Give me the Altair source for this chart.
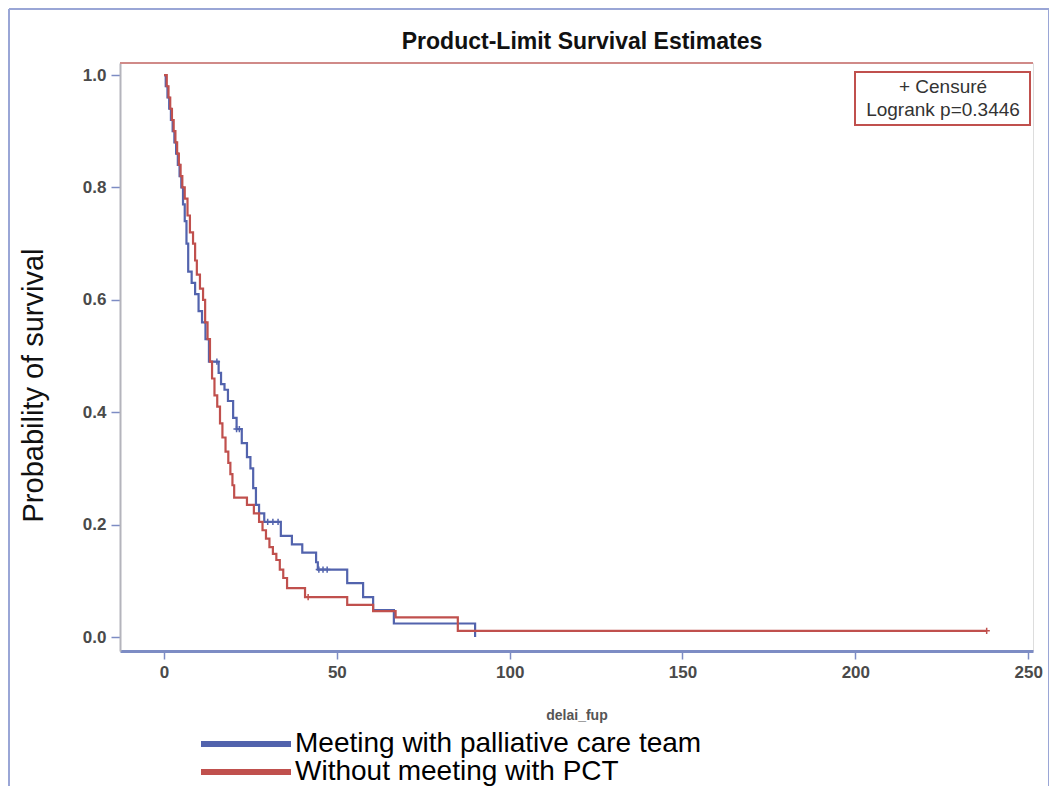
import altair as alt
import pandas as pd

groups = ["Meeting with palliative care team", "Without meeting with PCT"]
line_colors = ["#5263ad", "#c0504d"]

# Meeting with palliative care team (blue) - Kaplan-Meier steps
blue_t = [0, 0.5, 1, 1.5, 2, 2.5, 3, 3.5, 4, 4.5, 5, 5.5, 6, 6.5, 7, 8, 9, 10, 11, 12,
          13, 15.8, 16.5, 17.5, 18.5, 20, 21, 22.5, 24, 25, 25.8, 26.6, 27.5, 29, 33.8,
          37, 40, 44, 44.5, 53, 57.6, 60.5, 66.5, 90]
blue_s = [1.0, 0.98, 0.96, 0.94, 0.92, 0.90, 0.88, 0.86, 0.84, 0.82, 0.80, 0.77, 0.74,
          0.70, 0.65, 0.63, 0.61, 0.58, 0.56, 0.53, 0.49, 0.47, 0.45, 0.44, 0.42, 0.39,
          0.37, 0.345, 0.32, 0.30, 0.265, 0.235, 0.22, 0.205, 0.18, 0.165, 0.15, 0.133,
          0.12, 0.096, 0.071, 0.048, 0.024, 0.0]

# Without meeting with PCT (red)
red_t = [0, 0.8, 1.3, 1.8, 2.3, 2.8, 3.3, 3.8, 4.3, 4.8, 5.3, 6.0, 6.8, 7.5, 8.4, 9.0,
         9.5, 10.4, 11.3, 11.9, 12.6, 13.3, 13.9, 14.6, 15.4, 16.2, 16.9, 17.8, 18.6,
         19.2, 19.8, 20.3, 24.0, 26.0, 27.5, 28.5, 29.5, 30.5, 31.5, 32.5, 33.5, 34.5,
         35.6, 40.8, 53.0, 60.5, 67.0, 85.0, 238.0]
red_s = [1.0, 0.98, 0.96, 0.94, 0.92, 0.90, 0.88, 0.86, 0.84, 0.82, 0.80, 0.78, 0.75,
         0.72, 0.70, 0.67, 0.645, 0.62, 0.60, 0.56, 0.53, 0.49, 0.46, 0.43, 0.41, 0.38,
         0.355, 0.33, 0.31, 0.29, 0.27, 0.248, 0.235, 0.22, 0.205, 0.19, 0.175, 0.16,
         0.148, 0.137, 0.12, 0.105, 0.087, 0.071, 0.057, 0.046, 0.035, 0.011, 0.011]

# Censored observations
blue_cens_t = [15.3, 21.0, 21.8, 30.0, 31.5, 33.0, 44.8, 46.0, 47.2]
blue_cens_s = [0.49, 0.37, 0.37, 0.205, 0.205, 0.205, 0.12, 0.12, 0.12]
red_cens_t = [41.7, 238.0]
red_cens_s = [0.071, 0.011]

x_ticks = [0, 50, 100, 150, 200, 250]
y_ticks = [0.0, 0.2, 0.4, 0.6, 0.8, 1.0]
box_lines = ["+ Censuré", "Logrank p=0.3446"]
chart_title = "Product-Limit Survival Estimates"

lines_df = pd.DataFrame({
    "t": blue_t + red_t,
    "s": blue_s + red_s,
    "group": [groups[0]] * len(blue_t) + [groups[1]] * len(red_t),
})
cens_df = pd.DataFrame({
    "t": blue_cens_t + red_cens_t,
    "s": blue_cens_s + red_cens_s,
    "group": [groups[0]] * len(blue_cens_t) + [groups[1]] * len(red_cens_t),
})

FONT = "Liberation Sans"
xscale = alt.Scale(domain=[-12.73, 251.4], nice=False, zero=False)
yscale = alt.Scale(domain=[-0.0249, 1.0214], nice=False, zero=False)
cscale = alt.Scale(domain=groups, range=line_colors)

xaxis = alt.Axis(values=x_ticks, title="delai_fup", grid=False,
                 labelFontSize=17, labelFontWeight="bold", labelColor="#4a4a4a", labelFont=FONT,
                 tickSize=8, tickColor="#7d8cc4", tickWidth=1.5, labelPadding=5,
                 domainColor="#7d8cc4", domainWidth=3,
                 titleFont=FONT, titleFontSize=14, titleFontWeight="bold", titleColor="#555555",
                 titlePadding=28)
yaxis = alt.Axis(values=y_ticks, format=".1f", title="Probability of survival", grid=False,
                 labelFontSize=17, labelFontWeight="bold", labelColor="#4a4a4a", labelFont=FONT,
                 tickSize=9, tickColor="#7d8cc4", tickWidth=1.5, labelPadding=5,
                 domainColor="#b4b4bc", domainWidth=2,
                 titleFont=FONT, titleFontSize=29, titleFontWeight="normal", titleColor="#111111",
                 titleX=-87, titleY=322, titleAlign="center", titleBaseline="middle")

legend = alt.Legend(orient="none", legendX=78, legendY=669, title=None,
                    symbolType="stroke", symbolSize=8100, symbolStrokeWidth=6,
                    clipHeight=24, rowPadding=0, labelOffset=1, padding=0, labelLimit=800,
                    labelFont=FONT, labelFontSize=28, labelColor="#000000",
                    direction="vertical")

lines = alt.Chart(lines_df).mark_line(interpolate="step-after", strokeWidth=2.2).encode(
    x=alt.X("t:Q", scale=xscale, axis=xaxis),
    y=alt.Y("s:Q", scale=yscale, axis=yaxis),
    color=alt.Color("group:N", scale=cscale, legend=legend),
)

cens = alt.Chart(cens_df).mark_point(
    shape="M-1,0H1M0,-1V1", size=40, filled=False, strokeWidth=1.5, opacity=1
).encode(
    x=alt.X("t:Q", scale=xscale),
    y=alt.Y("s:Q", scale=yscale),
    color=alt.Color("group:N", scale=cscale, legend=None),
)

deco = pd.DataFrame({"a": [0]})
top_rule = alt.Chart(deco).mark_rule(color="#d08a88", strokeWidth=2).encode(
    x=alt.value(0), x2=alt.value(913), y=alt.value(0))
frame_top = alt.Chart(deco).mark_rule(color="#9aa6d6", strokeWidth=2).encode(
    x=alt.value(-111), x2=alt.value(929), y=alt.value(-54))
frame_left = alt.Chart(deco).mark_rule(color="#9aa6d6", strokeWidth=2).encode(
    x=alt.value(-111), y=alt.value(-54), y2=alt.value(740))
frame_right = alt.Chart(deco).mark_rule(color="#9aa6d6", strokeWidth=2).encode(
    x=alt.value(929), y=alt.value(-54), y2=alt.value(740))

title_mark = alt.Chart(deco).mark_text(font=FONT, fontSize=23, fontWeight="bold",
                                       color="#111111", baseline="middle").encode(
    x=alt.value(462), y=alt.value(-21), text=alt.value(chart_title))

box = alt.Chart(deco).mark_rect(fill="white", stroke="#c0504d", strokeWidth=2).encode(
    x=alt.value(735), x2=alt.value(910), y=alt.value(9), y2=alt.value(62))
box_t1 = alt.Chart(deco).mark_text(font=FONT, fontSize=19, color="#333333").encode(
    x=alt.value(823), y=alt.value(24), text=alt.value(box_lines[0]))
box_t2 = alt.Chart(deco).mark_text(font=FONT, fontSize=19, color="#333333").encode(
    x=alt.value(823), y=alt.value(47), text=alt.value(box_lines[1]))

chart = alt.layer(
    top_rule, lines, cens, box, box_t1, box_t2, title_mark, frame_top, frame_left, frame_right
).properties(
    width=913, height=588,
    padding={"left": 112, "top": 55, "right": 16, "bottom": 135},
    autosize=alt.AutoSizeParams(type="none"),
).configure_view(stroke="#8896c8", strokeWidth=2).configure(background="white")

chart.save("out.html", embed_options={"renderer": "svg", "actions": False})
